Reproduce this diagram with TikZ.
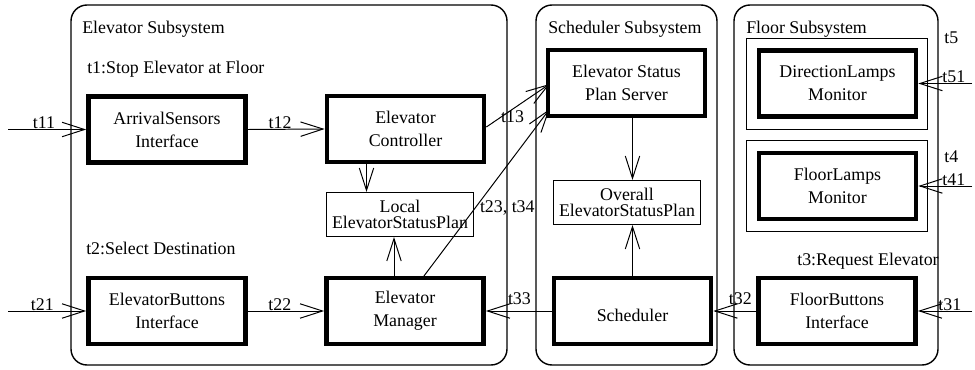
\documentclass[tikz,border=0pt]{standalone}
\usepackage{fontspec}
\setmainfont{Liberation Serif}
\usetikzlibrary{arrows.meta,calc}

\begin{document}
\begin{tikzpicture}[
    x=0.025cm, y=-0.025cm,
    >={Straight Barb[length=0.56cm,width=0.36cm]},
    every node/.style={font=\fontsize{12.7}{16.3}\selectfont},
    taskbox/.style={draw, line width=3.2pt, minimum width=3.93cm, minimum height=1.64cm,
        align=center, inner sep=0pt, execute at begin node={\rule{0pt}{0.55cm}}},
    databox/.style={draw, line width=0.7pt, minimum width=3.68cm, minimum height=1.1cm,
        align=center, inner sep=0pt, font=\fontsize{12.7}{11.7}\selectfont,
        execute at begin node={\rule{0pt}{0.45cm}}},
    subsys/.style={draw, line width=1pt, rounded corners=0.4cm},
    lampframe/.style={draw, line width=0.7pt},
    heading/.style={anchor=base west, inner sep=0pt},
    tlabel/.style={anchor=south, inner sep=0pt, yshift=#1},
    tlabel/.default=0pt,
    flow/.style={->, line width=0.7pt}
]

\useasboundingbox (0,0) rectangle (975,369);

% subsystems
\draw[subsys] (71,5) rectangle (507,365);
\draw[subsys] (536,5) rectangle (717,365);
\draw[subsys] (734,5) rectangle (938,365);
\draw[lampframe] (746,38) rectangle (927,129);
\draw[lampframe] (746,140) rectangle (927,231);

\node[heading] (elevsub) at (82,33) {Elevator Subsystem};
\node[heading] (schedsub) at (548,33) {Scheduler Subsystem};
\node[heading] (floorsub) at (746,33) {Floor Subsystem};
\node[heading] (task1) at (87,73) {t1:Stop Elevator at Floor};
\node[heading] (task2) at (86,254) {t2:Select Destination};
\node[heading] (task3) at (797,265) {t3:Request Elevator};
\node[heading] (task5) at (944,43) {t5};
\node[heading] (task4) at (944,162) {t4};

% objects
\node[taskbox] (asi) at (167,129.5) {ArrivalSensors\\Interface};
\node[taskbox] (ec) at (405.5,129) {Elevator\\Controller};
\node[taskbox] (esps) at (626.5,83) {Elevator Status\\Plan Server};
\node[taskbox] (dlm) at (837.5,83.5) {DirectionLamps\\Monitor};
\node[taskbox] (flm) at (837.5,186) {FloorLamps\\Monitor};
\node[databox] (lesp) at (400,214.5) {Local\\ElevatorStatusPlan};
\node[databox] (oesp) at (627,202.5) {Overall\\ElevatorStatusPlan};
\node[taskbox] (ebi) at (167,311) {ElevatorButtons\\Interface};
\node[taskbox] (em) at (405,311) {Elevator\\Manager};
\node[taskbox] (sch) at (632.5,311) {Scheduler};
\node[taskbox] (fbi) at (837,311) {FloorButtons\\Interface};

% free ends
\coordinate (in11) at (8,129.5);
\coordinate (in21) at (8,311);
\coordinate (in31) at (972,311);
\coordinate (in41) at (972,186);
\coordinate (in51) at (972,83.5);
\coordinate (ecdown) at ($(ec.south)+(-39,0)$);
\coordinate (emup) at ($(em.north)+(-11,0)$);
\coordinate (emout) at ($(em.north)+(19,0)$);

% messages
\draw[flow] (in11) -- node[tlabel, pos=0.46] (m11) {t11} (asi.west);
\draw[flow] (asi.east) -- node[tlabel, pos=0.42] (m12) {t12} (ec.west);
\draw[flow] ($(ec.east)+(0,-2)$) -- node[pos=0.415, anchor=north, inner sep=1pt] (m13) {t13} ($(esps.west)+(4,1)$);
\draw[flow] (emout) -- node[pos=0.41, anchor=west, inner sep=0.1cm] (m23) {t23, t34} ($(esps.south west)+(4,-9)$);
\draw[flow] (in21) -- node[tlabel, pos=0.44] (m21) {t21} (ebi.west);
\draw[flow] (ebi.east) -- node[tlabel, pos=0.42] (m22) {t22} (em.west);
\draw[flow] (sch.west) -- node[tlabel=0.15cm, pos=0.49] (m33) {t33} (em.east);
\draw[flow] (fbi.west) -- node[tlabel=0.15cm, pos=0.37] (m32) {t32} (sch.east);
\draw[flow] (in31) -- node[tlabel, pos=0.41] (m31) {t31} (fbi.east);
\draw[flow] (in51) -- node[tlabel, pos=0.34] (m51) {t51} (dlm.east);
\draw[flow] (in41) -- node[tlabel, pos=0.34] (m41) {t41} (flm.east);

% data access
\draw[flow] (ecdown) -- (ecdown |- lesp.north);
\draw[flow] (emup) -- (emup |- lesp.south);
\draw[flow] (esps.south -| sch) -- (oesp.north -| sch);
\draw[flow] (sch.north) -- (sch |- oesp.south);

\end{tikzpicture}
\end{document}
